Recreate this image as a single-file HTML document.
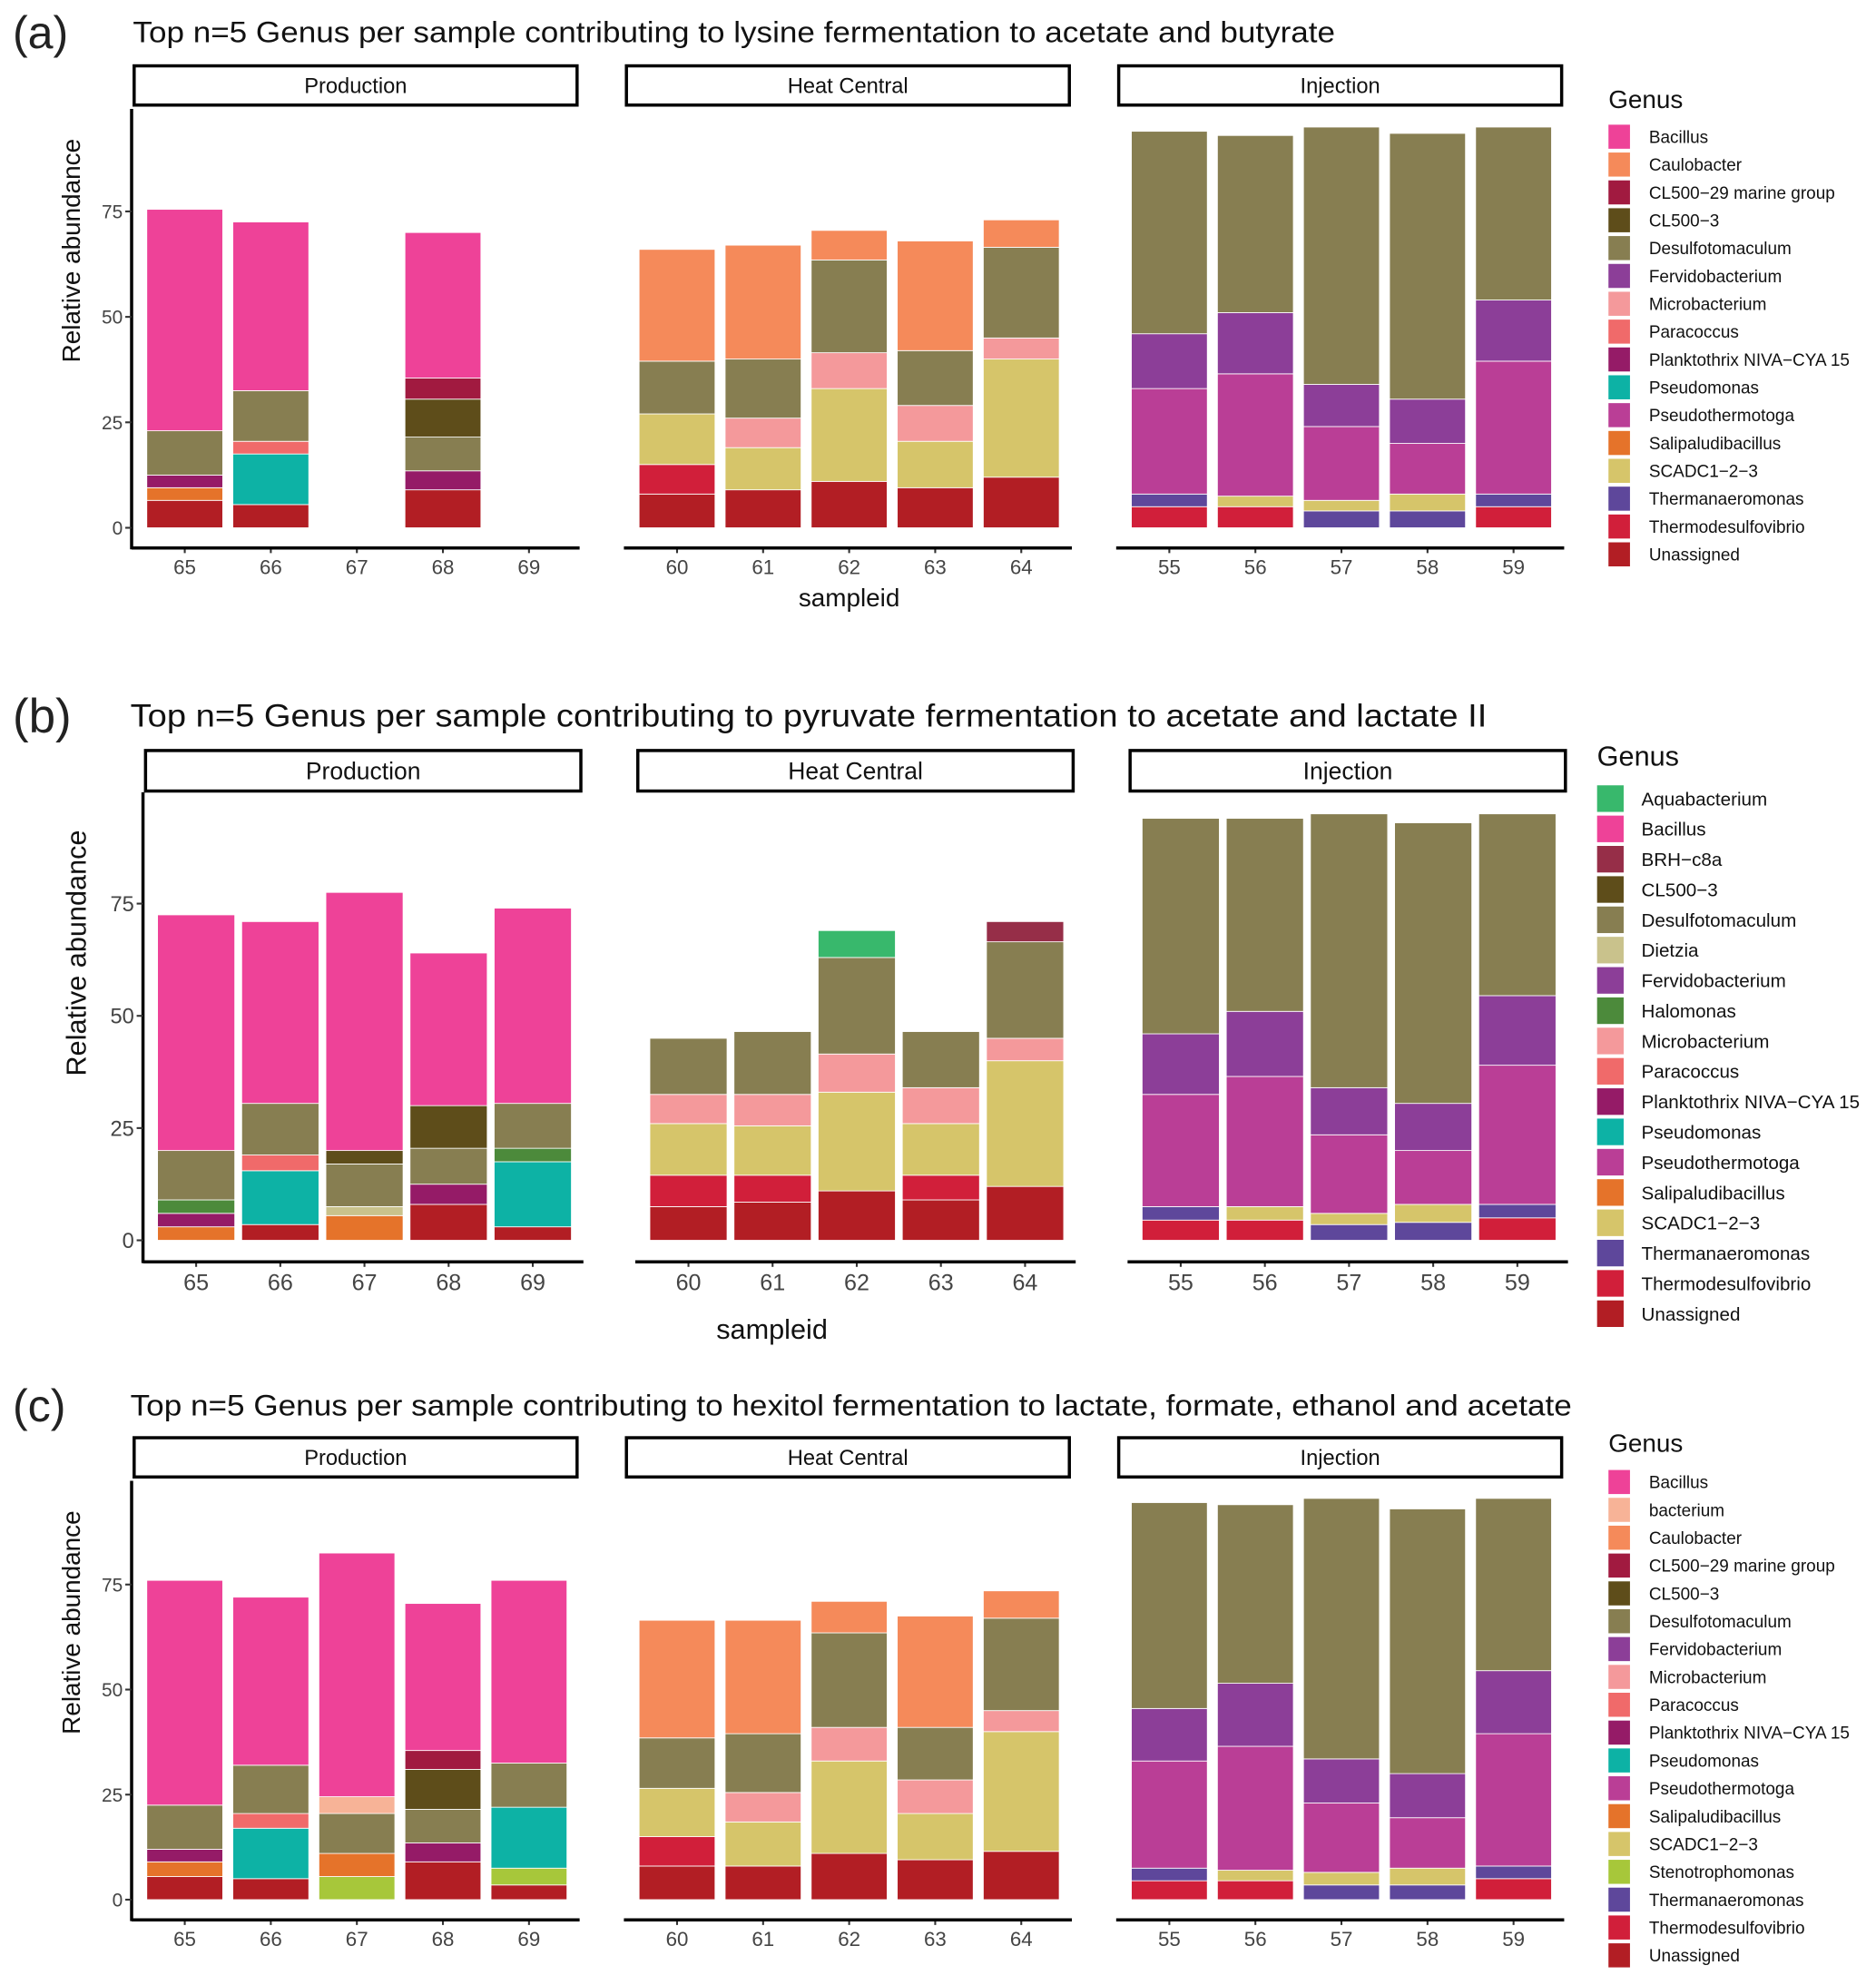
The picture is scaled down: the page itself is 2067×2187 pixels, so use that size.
<!DOCTYPE html>
<html><head><meta charset="utf-8"><style>
html,body{margin:0;padding:0;background:#fff;}
svg{display:block;font-family:"Liberation Sans",Arial,sans-serif;}
</style></head><body>
<svg id="chart" width="2067" height="2187" viewBox="0 0 1482.4 1568.4" xmlns="http://www.w3.org/2000/svg"></svg>
<script>
// ---------- data ----------
const yTicks = [0, 25, 50, 75];
const prodSamples = ['65','66','67','68','69'];
const heatSamples = ['60','61','62','63','64'];
const injSamples = ['55','56','57','58','59'];
const facetNames = ['Production','Heat Central','Injection'];

const legendA = ['Bacillus','Caulobacter','CL500\u221229 marine group','CL500\u22123','Desulfotomaculum','Fervidobacterium','Microbacterium','Paracoccus','Planktothrix NIVA\u2212CYA 15','Pseudomonas','Pseudothermotoga','Salipaludibacillus','SCADC1\u22122\u22123','Thermanaeromonas','Thermodesulfovibrio','Unassigned'];
const legendB = ['Aquabacterium','Bacillus','BRH\u2212c8a','CL500\u22123','Desulfotomaculum','Dietzia','Fervidobacterium','Halomonas','Microbacterium','Paracoccus','Planktothrix NIVA\u2212CYA 15','Pseudomonas','Pseudothermotoga','Salipaludibacillus','SCADC1\u22122\u22123','Thermanaeromonas','Thermodesulfovibrio','Unassigned'];
const legendC = ['Bacillus','bacterium','Caulobacter','CL500\u221229 marine group','CL500\u22123','Desulfotomaculum','Fervidobacterium','Microbacterium','Paracoccus','Planktothrix NIVA\u2212CYA 15','Pseudomonas','Pseudothermotoga','Salipaludibacillus','SCADC1\u22122\u22123','Stenotrophomonas','Thermanaeromonas','Thermodesulfovibrio','Unassigned'];

// Panel (a)
const aProdGenus = [['Unassigned','Salipaludibacillus','Planktothrix NIVA\u2212CYA 15','Desulfotomaculum','Bacillus'],['Unassigned','Pseudomonas','Paracoccus','Desulfotomaculum','Bacillus'],[],['Unassigned','Planktothrix NIVA\u2212CYA 15','Desulfotomaculum','CL500\u22123','CL500\u221229 marine group','Bacillus'],[]];
const aProdVals = [[6.5,3,3,10.5,52.5],[5.5,12,3,12,40],[],[9,4.5,8,9,5,34.5],[]];
const aHeatGenus = [['Unassigned','Thermodesulfovibrio','SCADC1\u22122\u22123','Desulfotomaculum','Caulobacter'],['Unassigned','SCADC1\u22122\u22123','Microbacterium','Desulfotomaculum','Caulobacter'],['Unassigned','SCADC1\u22122\u22123','Microbacterium','Desulfotomaculum','Caulobacter'],['Unassigned','SCADC1\u22122\u22123','Microbacterium','Desulfotomaculum','Caulobacter'],['Unassigned','SCADC1\u22122\u22123','Microbacterium','Desulfotomaculum','Caulobacter']];
const aHeatVals = [[8,7,12,12.5,26.5],[9,10,7,14,27],[11,22,8.5,22,7],[9.5,11,8.5,13,26],[12,28,5,21.5,6.5]];
const aInjGenus = [['Thermodesulfovibrio','Thermanaeromonas','Pseudothermotoga','Fervidobacterium','Desulfotomaculum'],['Thermodesulfovibrio','SCADC1\u22122\u22123','Pseudothermotoga','Fervidobacterium','Desulfotomaculum'],['Thermanaeromonas','SCADC1\u22122\u22123','Pseudothermotoga','Fervidobacterium','Desulfotomaculum'],['Thermanaeromonas','SCADC1\u22122\u22123','Pseudothermotoga','Fervidobacterium','Desulfotomaculum'],['Thermodesulfovibrio','Thermanaeromonas','Pseudothermotoga','Fervidobacterium','Desulfotomaculum']];
const aInjVals = [[5,3,25,13,48],[5,2.5,29,14.5,42],[4,2.5,17.5,10,61],[4,4,12,10.5,63],[5,3,31.5,14.5,41]];

// Panel (b)
const bProdGenus = [['Salipaludibacillus','Planktothrix NIVA\u2212CYA 15','Halomonas','Desulfotomaculum','Bacillus'],['Unassigned','Pseudomonas','Paracoccus','Desulfotomaculum','Bacillus'],['Salipaludibacillus','Dietzia','Desulfotomaculum','CL500\u22123','Bacillus'],['Unassigned','Planktothrix NIVA\u2212CYA 15','Desulfotomaculum','CL500\u22123','Bacillus'],['Unassigned','Pseudomonas','Halomonas','Desulfotomaculum','Bacillus']];
const bProdVals = [[3,3,3,11,52.5],[3.5,12,3.5,11.5,40.5],[5.5,2,9.5,3,57.5],[8,4.5,8,9.5,34],[3,14.5,3,10,43.5]];
const bHeatGenus = [['Unassigned','Thermodesulfovibrio','SCADC1\u22122\u22123','Microbacterium','Desulfotomaculum'],['Unassigned','Thermodesulfovibrio','SCADC1\u22122\u22123','Microbacterium','Desulfotomaculum'],['Unassigned','SCADC1\u22122\u22123','Microbacterium','Desulfotomaculum','Aquabacterium'],['Unassigned','Thermodesulfovibrio','SCADC1\u22122\u22123','Microbacterium','Desulfotomaculum'],['Unassigned','SCADC1\u22122\u22123','Microbacterium','Desulfotomaculum','BRH\u2212c8a']];
const bHeatVals = [[7.5,7,11.5,6.5,12.5],[8.5,6,11,7,14],[11,22,8.5,21.5,6],[9,5.5,11.5,8,12.5],[12,28,5,21.5,4.5]];
const bInjGenus = aInjGenus;
const bInjVals = [[4.5,3,25,13.5,48],[4.5,3,29,14.5,43],[3.5,2.5,17.5,10.5,61],[4,4,12,10.5,62.5],[5,3,31,15.5,40.5]];

// Panel (c)
const cProdGenus = [['Unassigned','Salipaludibacillus','Planktothrix NIVA\u2212CYA 15','Desulfotomaculum','Bacillus'],['Unassigned','Pseudomonas','Paracoccus','Desulfotomaculum','Bacillus'],['Stenotrophomonas','Salipaludibacillus','Desulfotomaculum','bacterium','Bacillus'],['Unassigned','Planktothrix NIVA\u2212CYA 15','Desulfotomaculum','CL500\u22123','CL500\u221229 marine group','Bacillus'],['Unassigned','Stenotrophomonas','Pseudomonas','Desulfotomaculum','Bacillus']];
const cProdVals = [[5.5,3.5,3,10.5,53.5],[5,12,3.5,11.5,40],[5.5,5.5,9.5,4,58],[9,4.5,8,9.5,4.5,35],[3.5,4,14.5,10.5,43.5]];
const cHeatGenus = aHeatGenus;
const cHeatVals = [[8,7,11.5,12,28],[8,10.5,7,14,27],[11,22,8,22.5,7.5],[9.5,11,8,12.5,26.5],[11.5,28.5,5,22,6.5]];
const cInjGenus = aInjGenus;
const cInjVals = [[4.5,3,25.5,12.5,49],[4.5,2.5,29.5,15,42.5],[3.5,3,16.5,10.5,62],[3.5,4,12,10.5,63],[5,3,31.5,15,41]];

const colors = {'Bacillus':'#EE4298','Caulobacter':'#F58A5A','CL500\u221229 marine group':'#A11A40','CL500\u22123':'#5E4D1A','Desulfotomaculum':'#877E51','Fervidobacterium':'#8C3E98','Microbacterium':'#F4999B','Paracoccus':'#F06A6A','Planktothrix NIVA\u2212CYA 15':'#951B67','Pseudomonas':'#0DB2A5','Pseudothermotoga':'#BA3E96','Salipaludibacillus':'#E5732A','SCADC1\u22122\u22123':'#D6C56A','Thermanaeromonas':'#5E479B','Thermodesulfovibrio':'#D11F3A','Unassigned':'#B21E24','Aquabacterium':'#38B86C','BRH\u2212c8a':'#962E48','Dietzia':'#C9C28C','Halomonas':'#4C8A3B','bacterium':'#F7B397','Stenotrophomonas':'#A7C73A'};

// ---------- drawing ----------
const NS = 'http://www.w3.org/2000/svg';
const svg = document.getElementById('chart');
function mk(tag, attrs, parent, text){
  const e = document.createElementNS(NS, tag);
  for (const k in attrs) e.setAttribute(k, attrs[k]);
  if (text !== undefined) e.textContent = text;
  (parent || svg).appendChild(e);
  return e;
}
function slug(s){return s.toLowerCase().replace(/[^a-z0-9]+/g,'-').replace(/^-|-$/g,'');}

function drawPanel(L, facets, legend){
  const g = mk('g', {});
  
  
  const lab = mk('text', {x:10, y:L.titleY + L.tagFont*0.36, 'font-size':L.tagFont, fill:'#222'}, g, '(' + L.tag + ')');
  
  
  const t = mk('text', {x:L.titleX, y:L.titleY + L.titleFont*0.36, 'font-size':L.titleFont, fill:'#111', textLength:L.titleLen, lengthAdjust:'spacingAndGlyphs'}, g, L.title);
  
  
  const yv = v => L.y0 - v * L.k;
  facets.forEach((f, fi) => {
    const x0 = L.stripX[fi];
    const fg = mk('g', {}, g);
    
    
    const sr = mk('rect', {x:x0, y:L.stripY, width:L.stripW, height:L.stripH, fill:'#fff', stroke:'#000', 'stroke-width':2.5}, fg);
    
    
    const st = mk('text', {x:x0 + L.stripW/2, y:L.stripY + L.stripH/2 + L.stripFont*0.36, 'font-size':L.stripFont, 'text-anchor':'middle', fill:'#111'}, fg, facetNames[fi]);
    
    
    f.samples.forEach((s, si) => {
      const cx = x0 + L.catOff + si * L.catStep;
      let cum = 0;
      f.genus[si].forEach((gn, gi) => {
        const v = f.vals[si][gi];
        const r = mk('rect', {x:cx - L.barW/2, y:yv(cum + v), width:L.barW, height:v * L.k, fill:colors[gn], stroke:'#fff', 'stroke-width':0.6}, fg);
        
        
        cum += v;
      });
      const tk = mk('line', {x1:cx, x2:cx, y1:L.axisY, y2:L.axisY + 4, stroke:'#333', 'stroke-width':1.5}, fg);
      
      
      const tl = mk('text', {x:cx, y:L.xLabY + L.tickFont*0.36, 'font-size':L.tickFont, 'text-anchor':'middle', fill:'#444'}, fg, s);
      
      
    });
    const ax = mk('line', {x1:x0 - 2, x2:x0 + L.stripW + 2, y1:L.axisY, y2:L.axisY, stroke:'#000', 'stroke-width':2.5}, fg);
    
    
    if (fi === 0) {
      const ya = mk('line', {x1:x0 - 2, x2:x0 - 2, y1:L.plotTop, y2:L.axisY + 1, stroke:'#000', 'stroke-width':2.5}, fg);
      
      
      yTicks.forEach(v => {
        const yt = mk('line', {x1:x0 - 7, x2:x0 - 2, y1:yv(v), y2:yv(v), stroke:'#333', 'stroke-width':1.5}, fg);
        
        
        const yl = mk('text', {x:x0 - 9, y:yv(v) + L.yTickFont*0.36, 'font-size':L.yTickFont, 'text-anchor':'end', fill:'#444'}, fg, String(v));
        
        
      });
    }
  });
  const yt = mk('text', {x:0, y:0, 'font-size':L.axisFont, 'text-anchor':'middle', fill:'#111', transform:'translate(' + (L.yTitleX + L.axisFont*0.36) + ',' + L.yTitleY + ') rotate(-90)'}, g, 'Relative abundance');
  
  
  if (L.showX) {
    const xt = mk('text', {x:L.xTitleX, y:L.xTitleY + L.axisFont*0.36, 'font-size':L.axisFont, 'text-anchor':'middle', fill:'#111'}, g, 'sampleid');
    
    
  }
  const lg = mk('g', {}, g);
  
  
  const lt = mk('text', {x:L.legX, y:L.legTitleY + L.legTitleFont*0.36, 'font-size':L.legTitleFont, fill:'#111'}, lg, 'Genus');
  
  
  legend.forEach((gn, i) => {
    const cy = L.legY0 + i * L.legStep;
    const kr = mk('rect', {x:L.legX, y:cy - L.keyH/2, width:L.keyW, height:L.keyH, fill:colors[gn]}, lg);
    
    
    const kt = mk('text', {x:L.legTextX, y:cy + L.legFont*0.36, 'font-size':L.legFont, fill:'#111'}, lg, gn);
    
    
  });
}

const layoutA = {tag:'a', title:'Top n=5 Genus per sample contributing to lysine fermentation to acetate and butyrate', titleX:105, titleY:25, titleFont:23, titleLen:950, tagFont:36,
  stripX:[106,495,884], stripW:350, stripY:52, stripH:31, stripFont:17, plotTop:86, axisY:433, y0:417, k:3.333,
  catOff:40, catStep:68, barW:60, tickFont:16, yTickFont:15, xLabY:448, axisFont:20, yTitleX:56, yTitleY:198, showX:true, xTitleX:671, xTitleY:472,
  legX:1271, legTitleY:78, legTitleFont:20, legY0:108, legStep:22, keyW:17, keyH:19, legTextX:1303, legFont:13.6};
const layoutB = {tag:'b', title:'Top n=5 Genus per sample contributing to pyruvate fermentation to acetate and lactate II', titleX:103, titleY:565, titleFont:25, titleLen:1072, tagFont:38,
  stripX:[115,504,893], stripW:344, stripY:593, stripH:32, stripFont:19, plotTop:626, axisY:997, y0:980, k:3.547,
  catOff:40, catStep:66.5, barW:61, tickFont:18, yTickFont:17, xLabY:1013, axisFont:22, yTitleX:60, yTitleY:753, showX:true, xTitleX:610, xTitleY:1050,
  legX:1262, legTitleY:597, legTitleFont:22, legY0:631, legStep:23.94, keyW:21, keyH:21, legTextX:1297, legFont:14.8};
const layoutC = {tag:'c', title:'Top n=5 Genus per sample contributing to hexitol fermentation to lactate, formate, ethanol and acetate', titleX:103, titleY:1110, titleFont:23, titleLen:1139, tagFont:36,
  stripX:[106,495,884], stripW:350, stripY:1136, stripH:31, stripFont:17, plotTop:1170, axisY:1517, y0:1501, k:3.32,
  catOff:40, catStep:68, barW:60, tickFont:16, yTickFont:15, xLabY:1532, axisFont:20, yTitleX:56, yTitleY:1282, showX:false, xTitleX:0, xTitleY:0,
  legX:1271, legTitleY:1140, legTitleFont:20, legY0:1171, legStep:22, keyW:17, keyH:19, legTextX:1303, legFont:13.6};

drawPanel(layoutA, [
  {samples:prodSamples, genus:aProdGenus, vals:aProdVals},
  {samples:heatSamples, genus:aHeatGenus, vals:aHeatVals},
  {samples:injSamples, genus:aInjGenus, vals:aInjVals}], legendA);
drawPanel(layoutB, [
  {samples:prodSamples, genus:bProdGenus, vals:bProdVals},
  {samples:heatSamples, genus:bHeatGenus, vals:bHeatVals},
  {samples:injSamples, genus:bInjGenus, vals:bInjVals}], legendB);
drawPanel(layoutC, [
  {samples:prodSamples, genus:cProdGenus, vals:cProdVals},
  {samples:heatSamples, genus:cHeatGenus, vals:cHeatVals},
  {samples:injSamples, genus:cInjGenus, vals:cInjVals}], legendC);
</script>
</body></html>
